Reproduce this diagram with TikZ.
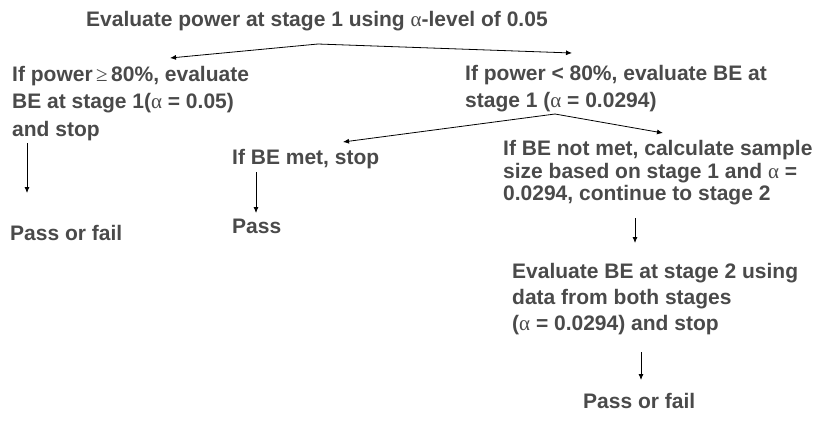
\documentclass[tikz,border=0pt]{standalone}
\usepackage{fontspec}
\setmainfont{Liberation Sans}
\newfontfamily\symf{Liberation Serif}
\usetikzlibrary{arrows.meta}
\newcommand{\al}{{\symf\mdseries α}}
\newcommand{\geqs}{{\symf\mdseries ≥}}
\newcommand{\mlines}[1]{\begin{tabular}[t]{@{}l@{}}#1\end{tabular}}
\definecolor{txt}{HTML}{4A4A4A}
\tikzset{
  lbl/.style={font=\fontsize{21}{27.5}\selectfont\bfseries, text=txt, inner sep=0pt, anchor=base west},
  arr/.style={draw=black, line width=0.8pt, -{Latex[length=6pt,width=5pt]}}
}
\begin{document}
\begin{tikzpicture}[x=1pt,y=-1pt]
\useasboundingbox (0,0) rectangle (819,432);
\node[lbl] (top) at (86,26) {Evaluate power at stage 1 using \al-level of 0.05};
\node[lbl] (left) at (12,81) {\mlines{If power\,\geqs\,80\%, evaluate\\BE at stage 1(\al\ = 0.05)\\and stop}};
\node[lbl, font=\fontsize{21}{27}\selectfont\bfseries] (right) at (465,80.5) {\mlines{If power < 80\%, evaluate BE at\\stage 1 (\al\ = 0.0294)}};
\node[lbl] (met) at (232,164.5) {If BE met, stop};
\node[lbl, font=\fontsize{21}{22.5}\selectfont\bfseries] (notmet) at (503,155.5) {\mlines{If BE not met, calculate sample\\size based on stage 1 and \al\ =\\0.0294, continue to stage 2}};
\node[lbl] (passfailL) at (10,240.5) {Pass or fail};
\node[lbl] (pass) at (232,233.5) {Pass};
\node[lbl, font=\fontsize{21}{26}\selectfont\bfseries] (eval2) at (512,278) {\mlines{Evaluate BE at stage 2 using\\data from both stages\\(\al\ = 0.0294) and stop}};
\node[lbl] (passfailR) at (583,408.5) {Pass or fail};

\coordinate (t0) at (318,44);
\coordinate (t1) at (170,58);
\coordinate (t2) at (572,53);
\coordinate (r0) at (555,114);
\coordinate (r1) at (343,142);
\coordinate (r2) at (663,133);
\coordinate (l0) at (27,143);
\coordinate (l1) at (27,193);
\coordinate (m0) at (256,172);
\coordinate (m1) at (256,213);
\coordinate (n0) at (635,218);
\coordinate (n1) at (635,243);
\coordinate (e0) at (641,352);
\coordinate (e1) at (641,380);

\draw[arr] (t0) -- (t1);
\draw[arr] (t0) -- (t2);
\draw[arr] (r0) -- (r1);
\draw[arr] (r0) -- (r2);
\draw[arr] (l0) -- (l1);
\draw[arr] (m0) -- (m1);
\draw[arr] (n0) -- (n1);
\draw[arr] (e0) -- (e1);
\end{tikzpicture}
\end{document}
